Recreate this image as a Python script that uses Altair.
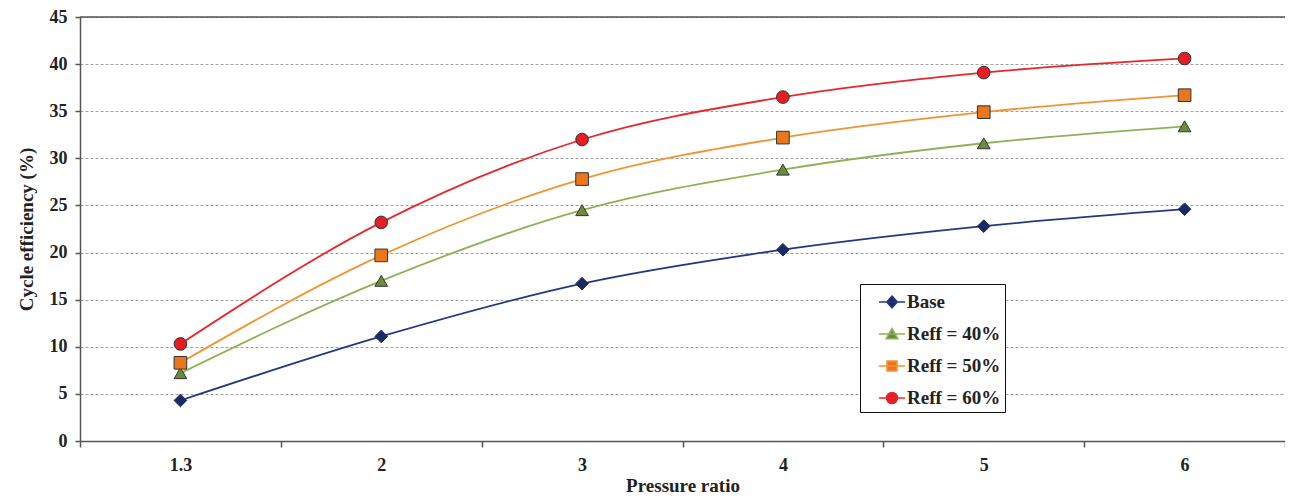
import altair as alt
import pandas as pd

pressure_ratio = ["1.3", "2", "3", "4", "5", "6"]
series_names = ["Base", "Reff = 40%", "Reff = 50%", "Reff = 60%"]
base = [4.3, 11.1, 16.7, 20.3, 22.8, 24.6]
reff40 = [7.2, 17.0, 24.5, 28.8, 31.6, 33.4]
reff50 = [8.3, 19.7, 27.8, 32.2, 34.9, 36.7]
reff60 = [10.3, 23.2, 32.0, 36.5, 39.1, 40.6]
values = [base, reff40, reff50, reff60]

line_colors = ["#23397F", "#8DB255", "#F29433", "#E8262B"]
fill_colors = ["#1B2A63", "#6E8B3D", "#E8771F", "#E31E24"]
edge_colors = ["#1B2A63", "#333333", "#333333", "#333333"]
plot_shapes = ["diamond", "triangle-up", "square", "circle"]
legend_shapes = [
    "M-1,0H1M0,-0.45L0.4,0L0,0.45L-0.4,0Z",
    "M-1,0H1M0,-0.42L0.44,0.36L-0.44,0.36Z",
    "M-1,0H1M-0.38,-0.38H0.38V0.38H-0.38Z",
    "M-1,0H1M-0.42,0A0.42,0.42,0,1,0,0.42,0A0.42,0.42,0,1,0,-0.42,0Z",
]

rows = []
for i, name in enumerate(series_names):
    for pr, v in zip(pressure_ratio, values[i]):
        rows.append({"pr": pr, "eff": v, "series": name, "lc": line_colors[i],
                     "fc": fill_colors[i], "ec": edge_colors[i], "shp": plot_shapes[i]})
df = pd.DataFrame(rows)

FONT = "Liberation Serif"

x_enc = alt.X("pr:O", sort=pressure_ratio,
              scale=alt.Scale(type="band", paddingInner=0, paddingOuter=0),
              axis=alt.Axis(title="Pressure ratio", labelAngle=0, tickBand="extent",
                            labelFont=FONT, labelFontSize=18, labelFontWeight="bold",
                            labelColor="#222", labelPadding=9,
                            titleFont=FONT, titleFontSize=19, titleFontWeight="bold",
                            titleColor="#222", titlePadding=2,
                            domainColor="#555", domainWidth=1.5, tickColor="#555",
                            tickWidth=1.5, tickSize=6, grid=False))
y_enc = alt.Y("eff:Q", scale=alt.Scale(domain=[0, 45], nice=False),
              axis=alt.Axis(title="Cycle efficiency (%)", values=list(range(0, 50, 5)),
                            labelFont=FONT, labelFontSize=18, labelFontWeight="bold",
                            labelColor="#222", labelPadding=8,
                            titleFont=FONT, titleFontSize=19, titleFontWeight="bold",
                            titleColor="#222", titlePadding=13,
                            domainColor="#555", domainWidth=1.5, tickColor="#555",
                            tickWidth=1.5, tickSize=5,
                            grid=True, gridColor="#888", gridDash=[3, 2], gridWidth=0.8))

base_chart = alt.Chart(df)

lines = base_chart.mark_line(interpolate="monotone", strokeWidth=1.8).encode(
    x=x_enc, y=y_enc,
    stroke=alt.Stroke("lc:N", scale=None),
    detail="series:N",
)

leg = alt.Legend(title=None, orient="none", legendX=780, legendY=267,
                 labelFont=FONT, labelFontSize=19, labelFontWeight="bold",
                 labelColor="#222", symbolSize=680, symbolStrokeWidth=1.6,
                 symbolOpacity=1, rowPadding=8, padding=4, labelOffset=1,
                 symbolOffset=14, labelExpr="datum.label + '\u00a0\u00a0\u00a0\u00a0'",
                 strokeColor="#111", fillColor="white", labelLimit=300)

legend_layer = base_chart.mark_point(filled=True, opacity=0).encode(
    x=x_enc, y=y_enc,
    shape=alt.Shape("series:N", sort=series_names,
                    scale=alt.Scale(domain=series_names, range=legend_shapes), legend=leg),
    fill=alt.Fill("series:N", sort=series_names,
                  scale=alt.Scale(domain=series_names, range=fill_colors), legend=leg),
    stroke=alt.Stroke("series:N", sort=series_names,
                      scale=alt.Scale(domain=series_names, range=line_colors), legend=leg),
)

points = base_chart.mark_point(filled=True, size=160, strokeWidth=1, opacity=1).encode(
    x=x_enc, y=y_enc,
    shape=alt.Shape("shp:N", scale=None),
    fill=alt.Fill("fc:N", scale=None),
    stroke=alt.Stroke("ec:N", scale=None),
)

top_rule = alt.Chart(pd.DataFrame({"v": [45]})).mark_rule(color="#555", strokeWidth=1.5).encode(
    y=alt.Y("v:Q", scale=alt.Scale(domain=[0, 45], nice=False))
)

chart = alt.layer(lines, legend_layer, points, top_rule).resolve_scale(
    shape="independent", fill="independent", stroke="independent"
).properties(
    width=1205, height=424,
    autosize=alt.AutoSizeParams(type="none"),
    padding={"left": 72, "top": 9, "right": 0, "bottom": 55},
).configure_view(stroke=None).configure(background="white")

chart.save("out.html", embed_options={"renderer": "svg", "actions": False})
